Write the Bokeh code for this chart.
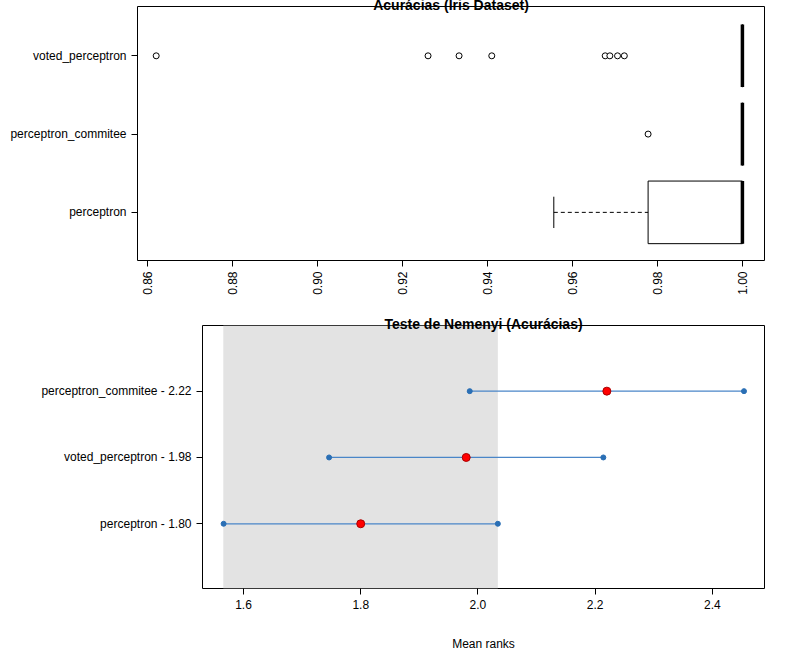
from bokeh.plotting import figure
from bokeh.models import FixedTicker, Range1d, Title
from bokeh.embed import file_html
from bokeh.resources import INLINE
import math

# top: boxplot data
box_cats = ["perceptron", "perceptron_commitee", "voted_perceptron"]
box_q1 = [0.9778, 1.0, 1.0]
box_med = [1.0, 1.0, 1.0]
box_q3 = [1.0, 1.0, 1.0]
box_wlo = [0.9556, 1.0, 1.0]
box_whi = [1.0, 1.0, 1.0]
outliers_cat = [2, 3, 3, 3, 3, 3, 3, 3, 3]
outliers_val = [0.9778, 0.862, 0.926, 0.9333, 0.941, 0.9677, 0.9688, 0.9706, 0.9722]
top_ticks = [0.86, 0.88, 0.90, 0.92, 0.94, 0.96, 0.98, 1.00]

# bottom: Nemenyi
nem_labels = ["perceptron - 1.80", "voted_perceptron - 1.98", "perceptron_commitee - 2.22"]
nem_mean = [1.80, 1.98, 2.22]
nem_lo = [1.566, 1.746, 1.986]
nem_hi = [2.034, 2.214, 2.454]
cd_band = [1.5655, 2.034]
bot_ticks = [1.6, 1.8, 2.0, 2.2, 2.4]

FONT = "Liberation Sans"

def style(p):
    p.outline_line_color = "black"
    p.xgrid.visible = False
    p.ygrid.visible = False
    for ax in (p.xaxis, p.yaxis):
        ax.axis_line_color = None
        ax.major_tick_out = 6
        ax.major_tick_in = 0
        ax.minor_tick_line_color = None
        ax.major_label_text_font = FONT
        ax.major_label_text_font_size = "12px"
        ax.major_label_text_color = "black"
        ax.major_tick_line_color = "black"

def title(text):
    return Title(text=text, align="center", text_font=FONT, text_font_style="bold",
                 text_font_size="14px", text_color="black", standoff=-12)

ys = [1, 2, 3]
hw = 0.4

p1 = figure(width=775, height=315, output_backend="svg", toolbar_location=None,
            x_range=Range1d(0.8576, 1.0052), y_range=Range1d(0.385, 3.63),
            min_border_left=137, min_border_right=11, min_border_top=0, min_border_bottom=55)
p1.add_layout(title("Acurácias (Iris Dataset)"), "above")
style(p1)
p1.xaxis.ticker = FixedTicker(ticks=top_ticks)
p1.xaxis.major_label_overrides = {t: f"{t:.2f}" for t in top_ticks}
p1.xaxis.major_label_orientation = math.pi / 2
p1.yaxis.ticker = FixedTicker(ticks=[1, 2, 3])
p1.yaxis.major_label_overrides = {i + 1: c for i, c in enumerate(box_cats)}
p1.quad(left=box_q1, right=box_q3, bottom=[y - hw for y in ys], top=[y + hw for y in ys],
        fill_color="white", line_color="black", line_width=1)
p1.segment(x0=box_wlo, x1=box_q1, y0=ys, y1=ys, line_color="black", line_dash="4 3")
p1.segment(x0=box_whi, x1=box_q3, y0=ys, y1=ys, line_color="black", line_dash="4 3")
p1.segment(x0=box_wlo, x1=box_wlo, y0=[y - hw / 2 for y in ys], y1=[y + hw / 2 for y in ys], line_color="black")
p1.segment(x0=box_med, x1=box_med, y0=[y - hw for y in ys], y1=[y + hw for y in ys], line_color="black", line_width=3.5)
p1.scatter(outliers_val, outliers_cat, size=6, fill_color="white", line_color="black")

p2 = figure(width=775, height=338, output_backend="svg", toolbar_location=None,
            x_range=Range1d(1.530, 2.489), y_range=Range1d(0.024, 3.99),
            min_border_left=202, min_border_right=11, min_border_top=10, min_border_bottom=61)
p2.add_layout(title("Teste de Nemenyi (Acurácias)"), "above")
style(p2)
p2.xaxis.ticker = FixedTicker(ticks=bot_ticks)
p2.xaxis.major_label_overrides = {t: f"{t:.1f}" for t in bot_ticks}
p2.xaxis.axis_label = "Mean ranks"
p2.xaxis.axis_label_text_font = FONT
p2.xaxis.axis_label_text_font_style = "normal"
p2.xaxis.axis_label_text_font_size = "12px"
p2.xaxis.axis_label_text_color = "black"
p2.xaxis.axis_label_standoff = 25
p2.yaxis.ticker = FixedTicker(ticks=[1, 2, 3])
p2.yaxis.major_label_overrides = {i + 1: c for i, c in enumerate(nem_labels)}
p2.quad(left=[cd_band[0]], right=[cd_band[1]], bottom=[0.024], top=[3.99], fill_color="#e3e3e3", line_color=None)
p2.segment(x0=nem_lo, x1=nem_hi, y0=ys, y1=ys, line_color="#4a86c8", line_width=1.3)
p2.scatter(nem_lo + nem_hi, ys + ys, size=5, color="#2a6fb5")
p2.scatter(nem_mean, ys, size=8, fill_color="red", line_color="#aa0000")

open("out.html", "w").write(file_html([p1, p2], INLINE))
